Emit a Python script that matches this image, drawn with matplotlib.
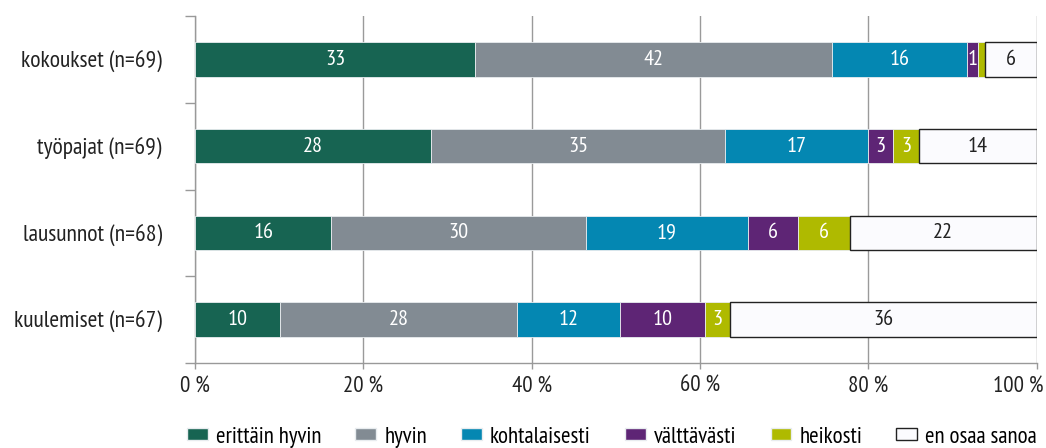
import numpy as np
import matplotlib.pyplot as plt
from matplotlib.ticker import FixedLocator

plt.rcParams['font.family'] = ['PT Sans Narrow', 'DejaVu Sans']

categories = ["kokoukset (n=69)", "työpajat (n=69)", "lausunnot (n=68)", "kuulemiset (n=67)"]
series = ["erittäin hyvin", "hyvin", "kohtalaisesti", "välttävästi", "heikosti", "en osaa sanoa"]

erittain_hyvin = [33.3, 28.0, 16.2, 10.1]
hyvin = [42.4, 35.0, 30.3, 28.2]
kohtalaisesti = [16.1, 17.0, 19.2, 12.2]
valttavasti = [1.2, 3.0, 6.0, 10.1]
heikosti = [0.9, 3.0, 6.1, 3.0]
en_osaa = [6.1, 14.0, 22.2, 36.4]

xticks = [0, 20, 40, 60, 80, 100]

colors = ["#176452", "#828b93", "#0487b2", "#5e2575", "#afba00", "#fbfbfe"]
text_colors = ["white", "white", "white", "white", "white", "#222222"]

data = [erittain_hyvin, hyvin, kohtalaisesti, valttavasti, heikosti, en_osaa]

fig = plt.figure(figsize=(10.46, 4.48), dpi=100)
ax = fig.add_axes([195 / 1046, 1 - 363 / 448, (1036.5 - 195) / 1046, (363 - 16) / 448])

y = np.arange(len(categories))
left = np.zeros(len(categories))
for vals, name, col, tcol in zip(data, series, colors, text_colors):
    vals = np.array(vals)
    last = name == "en osaa sanoa"
    bars = ax.barh(y, vals, left=left, height=0.4, color=col, label=name,
                   edgecolor="#222222" if last else "#e8ecef",
                   linewidth=1.0 if last else 0.6, zorder=3)
    for b, v in zip(bars, vals):
        if v >= 1:
            ax.text(b.get_x() + b.get_width() / 2, b.get_y() + b.get_height() / 2,
                    f"{round(v)}", ha="center", va="center", color=tcol,
                    fontsize=16, zorder=4)
    left += vals

ax.set_xlim(0, 100)
ax.set_ylim(3.5, -0.5)
ax.set_xticks(xticks)
# the last label is drawn separately so it stays inside the picture
ax.set_xticklabels([f"{t} %" for t in xticks[:-1]] + [""], fontsize=16.5, color="#222222")
ax.annotate(f"{xticks[-1]} %", xy=(xticks[-1], 0), xycoords=("data", "axes fraction"),
            xytext=(5, -9), textcoords="offset points", ha="right", va="top",
            fontsize=16.5, color="#222222")
ax.set_yticks(y)
ax.set_yticklabels(categories, fontsize=17, color="#222222")
ax.tick_params(axis="y", which="major", length=0, pad=24)
ax.yaxis.set_minor_locator(FixedLocator(np.arange(-0.5, 4, 1)))
ax.tick_params(axis="y", which="minor", length=7, color="#999999", width=1)
ax.tick_params(axis="x", length=4, color="#999999", width=1, pad=5)

ax.grid(axis="x", color="#9a9a9a", linewidth=1, zorder=0)
for s in ["top", "right"]:
    ax.spines[s].set_visible(False)
for s in ["left", "bottom"]:
    ax.spines[s].set_color("#999999")
    ax.spines[s].set_linewidth(1)

leg = fig.legend(loc="center", bbox_to_anchor=(0.585, 1 - 437 / 448), ncol=6,
                 frameon=False, fontsize=16.5, handlelength=0.9, handleheight=0.45,
                 columnspacing=1.5, handletextpad=0.35)
for h in leg.legend_handles:
    h.set_linewidth(1.0)

fig.savefig("out.png", dpi=100)
